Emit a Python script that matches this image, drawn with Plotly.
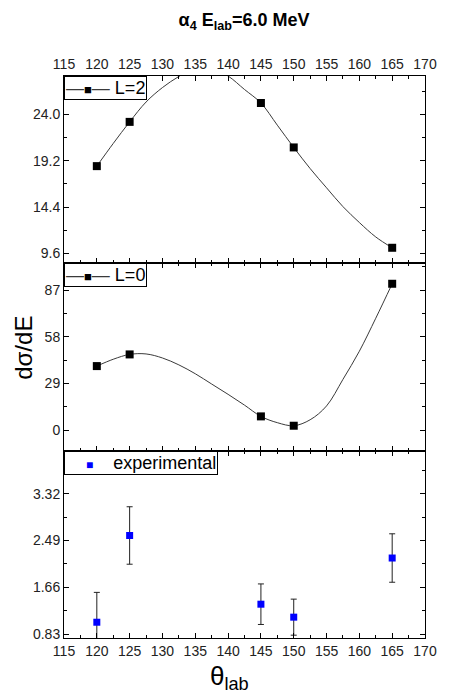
import plotly.graph_objects as go

# ---- data ----
theta = [120, 125, 145, 150, 165]
L2_vals = [18.65, 23.24, 25.2, 20.59, 10.18]
L0_vals = [39.75, 47.0, 8.5, 2.7, 90.9]
exp_vals = [1.04, 2.58, 1.36, 1.13, 2.18]
exp_err = [0.53, 0.51, 0.36, 0.32, 0.43]

# smooth fitted curves
curve_theta = [120, 122.5, 125, 127.5, 130, 132.5, 135, 137.5, 140, 142.5,
               145, 147.5, 150, 152.5, 155, 157.5, 160, 162.5, 165]
L2_curve = [18.65, 21.0, 23.24, 25.3, 26.8, 27.95, 28.8, 28.85, 28.0, 26.6,
            25.2, 22.9, 20.59, 18.4, 16.4, 14.45, 12.8, 11.3, 10.18]
L0_curve = [39.75, 44.0, 47.0, 47.3, 44.8, 40.5, 35.0, 28.6, 22.2, 15.5,
            8.5, 4.6, 2.7, 6.4, 15.0, 31.5, 49.0, 69.5, 90.9]

x_ticks = list(range(115, 171, 5))
legend_names = ["L=2", "L=0", "experimental"]

FONT = "Liberation Sans, Arial, sans-serif"
CURVE = "#3a3a3a"

fig = go.Figure()

# top panel: L=2
fig.add_trace(go.Scatter(x=curve_theta, y=L2_curve, mode="lines",
                         line=dict(color=CURVE, width=1, shape="spline", smoothing=1),
                         xaxis="x3", yaxis="y3", showlegend=False, hoverinfo="skip"))
fig.add_trace(go.Scatter(x=theta, y=L2_vals, mode="markers", name=legend_names[0],
                         marker=dict(symbol="square", size=8, color="black"),
                         xaxis="x3", yaxis="y3", showlegend=False))

# middle panel: L=0
fig.add_trace(go.Scatter(x=curve_theta, y=L0_curve, mode="lines",
                         line=dict(color=CURVE, width=1, shape="spline", smoothing=1),
                         xaxis="x2", yaxis="y2", showlegend=False, hoverinfo="skip"))
fig.add_trace(go.Scatter(x=theta, y=L0_vals, mode="markers", name=legend_names[1],
                         marker=dict(symbol="square", size=8, color="black"),
                         xaxis="x2", yaxis="y2", showlegend=False))

# bottom panel: experimental
fig.add_trace(go.Scatter(x=theta, y=exp_vals, mode="markers", name=legend_names[2],
                         marker=dict(symbol="square", size=7, color="#0000ff"),
                         error_y=dict(type="data", array=exp_err, color="#222222",
                                      thickness=1, width=3),
                         xaxis="x", yaxis="y", showlegend=False))

d1, d2 = 187 / 562, 375 / 562

def xax(anchor, labels=True, side="bottom"):
    return dict(anchor=anchor, domain=[0, 1], range=[115, 170],
                tickmode="array", tickvals=x_ticks, showticklabels=labels, side=side,
                ticks="inside", ticklen=5, tickcolor="black",
                minor=dict(ticks="inside", ticklen=3, tickmode="linear",
                           tick0=115, dtick=2.5, tickcolor="black"),
                showline=True, linecolor="black", linewidth=1, mirror="ticks",
                showgrid=False, zeroline=False,
                tickfont=dict(family=FONT, size=14, color="#222"))

def yax(anchor, dom, rng, t0, dt, fmt):
    return dict(anchor=anchor, domain=dom, range=rng,
                tickmode="linear", tick0=t0, dtick=dt, tickformat=fmt,
                ticks="inside", ticklen=5, tickcolor="black",
                minor=dict(ticks="inside", ticklen=3, tickmode="linear",
                           tick0=t0, dtick=dt / 2, tickcolor="black"),
                showline=True, linecolor="black", linewidth=1, mirror="ticks",
                showgrid=False, zeroline=False,
                tickfont=dict(family=FONT, size=14, color="#222"))

NB = "\u00a0"
line_sym = (f'<span style="color:{CURVE}">—</span>'
            '<span style="font-size:13px">■</span>'
            f'<span style="color:{CURVE}">—</span>')
blue_sym = '<span style="color:#0000ff;font-size:12px">■</span>'

def legend_box(text, y):
    return dict(text=text, xref="paper", yref="paper", x=0, y=y,
                xanchor="left", yanchor="top", showarrow=False, align="left",
                bgcolor="white", bordercolor="black", borderwidth=1, borderpad=1,
                font=dict(family=FONT, size=18, color="black"))

fig.update_layout(
    width=449, height=693,
    margin=dict(l=64, r=17, t=76, b=55),
    paper_bgcolor="white", plot_bgcolor="white",
    showlegend=False,
    xaxis=xax("y"),
    xaxis2=dict(xax("y2", labels=False), matches="x"),
    xaxis3=dict(xax("y3", side="top"), matches="x"),
    yaxis=yax("x", [0, d1], [0.76, 4.08], 0.83, 0.83, ".2f"),
    yaxis2=yax("x2", [d1, d2], [-13, 103.8], 0, 29, "d"),
    yaxis3=yax("x3", [d2, 1], [8.6, 28], 9.6, 4.8, ".1f"),
    title=dict(text="<b>α<sub>4</sub> E<sub>lab</sub>=6.0 MeV</b>",
               x=244 / 449, xanchor="center", xref="container",
               y=1 - 20 / 693, yanchor="middle", yref="container",
               font=dict(family=FONT, size=18, color="black")),
    annotations=[
        legend_box(line_sym + NB + legend_names[0], 1),
        legend_box(line_sym + NB + legend_names[1], d2),
        legend_box(NB * 4 + blue_sym + NB * 4 + legend_names[2], d1),
        dict(text="θ<sub>lab</sub>", xref="paper", yref="paper",
             x=(233 - 64) / 368, y=-(677 - 638) / 562, xanchor="center", yanchor="middle",
             showarrow=False, font=dict(family=FONT, size=26, color="black")),
        dict(text="dσ/dE", xref="paper", yref="paper", textangle=-90,
             x=-(64 - 22) / 368, y=(638 - 348) / 562, xanchor="center", yanchor="middle",
             showarrow=False, font=dict(family=FONT, size=24, color="black")),
    ],
)

fig.write_html("out.html", config={"displayModeBar": False},
               post_script="document.body.style.margin='0px';")
